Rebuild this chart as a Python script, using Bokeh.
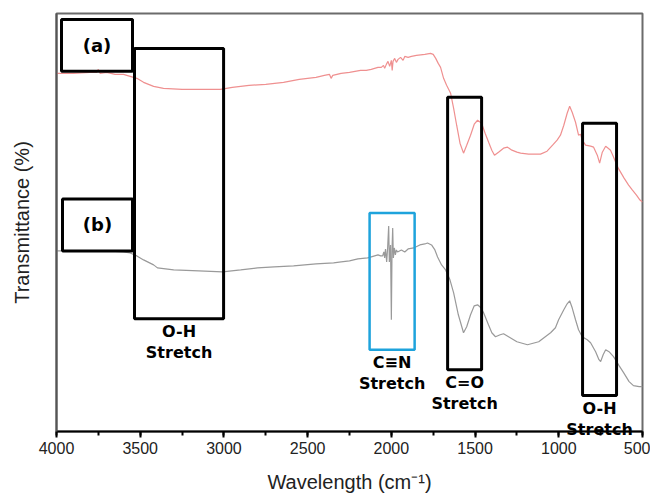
from bokeh.plotting import figure
from bokeh.models import Range1d, SingleIntervalTicker, FixedTicker, Label
from bokeh.embed import file_html
from bokeh.resources import INLINE

# ---- data (wavenumber in cm^-1, transmittance in arbitrary units) ----
a_wn = [4000, 3900, 3800, 3760, 3750, 3740, 3700, 3650, 3600, 3560, 3520, 3480, 3420, 3361,
        3250, 3150, 3050, 3020, 2950, 2850, 2750, 2644, 2550, 2450, 2400, 2370, 2360, 2350,
        2300, 2250, 2184, 2150, 2120, 2100, 2080, 2060, 2047, 2040, 2030, 2020, 2010, 2000,
        1995, 1990, 1980, 1970, 1960, 1945, 1930, 1920, 1900, 1880, 1850, 1800, 1766, 1750,
        1735, 1720, 1706, 1688, 1670, 1646, 1628, 1610, 1590, 1569, 1550, 1527, 1505, 1485,
        1461, 1440, 1419, 1400, 1384, 1360, 1330, 1306, 1280, 1250, 1228, 1180, 1109, 1070,
        1037, 1010, 990, 970, 950, 935, 920, 900, 882, 870, 860, 840, 810, 792, 770, 756,
        740, 720, 705, 691, 675, 660, 645, 631, 610, 583, 560, 536, 515, 500]
a_t = [359, 359, 360, 360, 363, 359, 360, 358, 358, 356, 354, 350, 346, 344,
       343, 343, 343, 343, 345, 347, 348, 350, 353, 355, 357, 358, 354, 357,
       359, 360, 362, 362, 363, 364, 365, 365, 367, 364, 368, 371, 366, 372,
       362, 371, 374, 370, 373, 375, 372, 376, 375, 376, 377, 378, 379, 378,
       374, 369, 365, 354, 347, 339, 324, 307, 289, 279, 287, 297, 308, 312,
       309, 299, 290, 282, 277, 280, 284, 285, 282, 280, 279, 278, 278, 281,
       287, 292, 297, 307, 319, 326, 320, 310, 297, 298, 292, 287, 286, 285, 277, 269,
       280, 286, 284, 282, 276, 270, 264, 260, 254, 247, 242, 237, 232, 230]

b_wn = [4000, 3900, 3800, 3700, 3600, 3560, 3520, 3480, 3420, 3397, 3300, 3150, 3008, 2900,
        2800, 2700, 2584, 2450, 2345, 2300, 2250, 2200, 2142, 2120, 2100, 2080, 2064, 2052,
        2045, 2040, 2035, 2028, 2022, 2016, 2012, 2005, 2000, 1996, 1992, 1988, 1982, 1976,
        1970, 1963, 1940, 1920, 1900, 1867, 1830, 1800, 1784, 1760, 1740, 1724, 1700, 1676,
        1650, 1628, 1600, 1569, 1550, 1527, 1505, 1485, 1465, 1449, 1420, 1400, 1378, 1350,
        1330, 1300, 1250, 1187, 1120, 1049, 1020, 1001, 970, 950, 935, 920, 900, 882, 860,
        830, 810, 780, 760, 750, 735, 720, 700, 673, 640, 613, 580, 554, 520, 500]
b_t = [181, 181, 181, 181, 180, 179, 176, 172, 167, 164, 162, 161, 160, 162,
       164, 165, 166, 168, 169, 170, 171, 173, 174, 175, 176, 177, 176, 176,
       180, 174, 183, 170, 185, 206, 170, 187, 112, 182, 204, 174, 184, 177,
       182, 180, 182, 180, 183, 184, 187, 188, 189, 187, 182, 175, 167, 162,
       152, 139, 117, 99, 105, 117, 126, 127, 124, 119, 107, 99, 95, 97,
       98, 95, 90, 87, 90, 99, 104, 112, 122, 128, 131, 124, 112, 102, 95,
       92, 89, 80, 72, 70, 77, 82, 80, 75, 66, 59, 50, 46, 45, 45]

# annotation boxes
box_left = [3970, 3534, 3964, 1664, 858]
box_right = [3546, 3002, 3546, 1461, 655]
box_top = [413, 384, 233, 335, 309]
box_bottom = [361, 113, 181, 62, 36]
cn_left, cn_right, cn_top, cn_bottom = [2130], [1861], [219], [82]

tag_texts = ["(a)", "(b)"]
tag_boxes = [0, 2]
stretch_line1 = ["O-H", "C\u2261N", "C=O", "O-H"]
stretch_line2 = ["Stretch", "Stretch", "Stretch", "Stretch"]
stretch_boxes = ["oh1", "cn", "co", "oh2"]

x_title = "Wavelength (cm\u207b\u00b9)"
y_title = "Transmittance (%)"
x_start, x_end = 4000, 500
y_start, y_end = 0, 419
x_ticks_interval = 500

p = figure(width=650, height=497, x_range=Range1d(x_start, x_end), y_range=Range1d(y_start, y_end),
           output_backend="svg", toolbar_location=None,
           min_border_left=56, min_border_right=8, min_border_top=13, min_border_bottom=60)

p.line(a_wn, a_t, line_color="#ef9090", line_width=1.2)
p.line(b_wn, b_t, line_color="#9a9a9a", line_width=1.2)

p.quad(left=box_left, right=box_right, top=box_top, bottom=box_bottom,
       fill_alpha=0, line_color="black", line_width=3)
p.quad(left=cn_left, right=cn_right, top=cn_top, bottom=cn_bottom,
       fill_alpha=0, line_color="#1ea3dc", line_width=2.5)

font = "DejaVu Sans"
for txt, bi in zip(tag_texts, tag_boxes):
    p.add_layout(Label(x=(box_left[bi] + box_right[bi]) / 2, y=(box_top[bi] + box_bottom[bi]) / 2,
                       text=txt, text_align="center", text_baseline="middle",
                       text_font=font, text_font_style="bold", text_font_size="18px",
                       text_color="black"))

anchors = {
    "oh1": ((box_left[1] + box_right[1]) / 2, box_bottom[1]),
    "cn": ((cn_left[0] + cn_right[0]) / 2, cn_bottom[0]),
    "co": ((box_left[3] + box_right[3]) / 2, box_bottom[3]),
    "oh2": ((box_left[4] + box_right[4]) / 2, box_bottom[4]),
}
for t1, t2, key in zip(stretch_line1, stretch_line2, stretch_boxes):
    x, y = anchors[key]
    for txt, off in ((t1, -3), (t2, -24)):
        lab = Label(x=x, y=y, y_offset=off, text=txt, text_align="center",
                    text_baseline="top", text_font=font, text_font_style="bold",
                    text_font_size="16px", text_color="black", level="overlay")
        if key == "oh2" and txt == t2:
            # this line crosses the x axis: keep it out of the frame clip
            p.add_layout(lab, "below")
        else:
            p.add_layout(lab)

# x-axis title as a label below the axis (unclipped side panel)
p.add_layout(Label(x=(x_start + x_end) / 2, y=y_start, y_offset=-50, text=x_title,
                   text_align="center", text_baseline="alphabetic",
                   text_font="Liberation Sans", text_font_size="20px",
                   text_color="#222222"), "below")

p.xgrid.visible = False
p.ygrid.visible = False
p.outline_line_color = "#6b6b6b"
p.outline_line_width = 2

xa = p.xaxis[0]
xa.ticker = SingleIntervalTicker(interval=x_ticks_interval, num_minor_ticks=2)
xa.major_label_text_font = "Liberation Sans"
xa.major_label_text_font_size = "16px"
xa.major_label_text_color = "#222222"
xa.major_label_standoff = 4
xa.axis_line_color = "black"
xa.axis_line_width = 2
xa.major_tick_line_width = 2
xa.minor_tick_line_width = 2
xa.major_tick_in = 0
xa.major_tick_out = 6
xa.minor_tick_in = 0
xa.minor_tick_out = 4

ya = p.yaxis[0]
ya.ticker = FixedTicker(ticks=[])
ya.axis_label = y_title
ya.axis_label_text_font = "Liberation Sans"
ya.axis_label_text_font_size = "20px"
ya.axis_label_text_font_style = "normal"
ya.axis_label_text_color = "#222222"
ya.axis_label_standoff = 24
ya.axis_line_color = "#555555"
ya.axis_line_width = 2
ya.major_tick_line_color = None
ya.minor_tick_line_color = None

open("out.html", "w").write(file_html(p, INLINE))
